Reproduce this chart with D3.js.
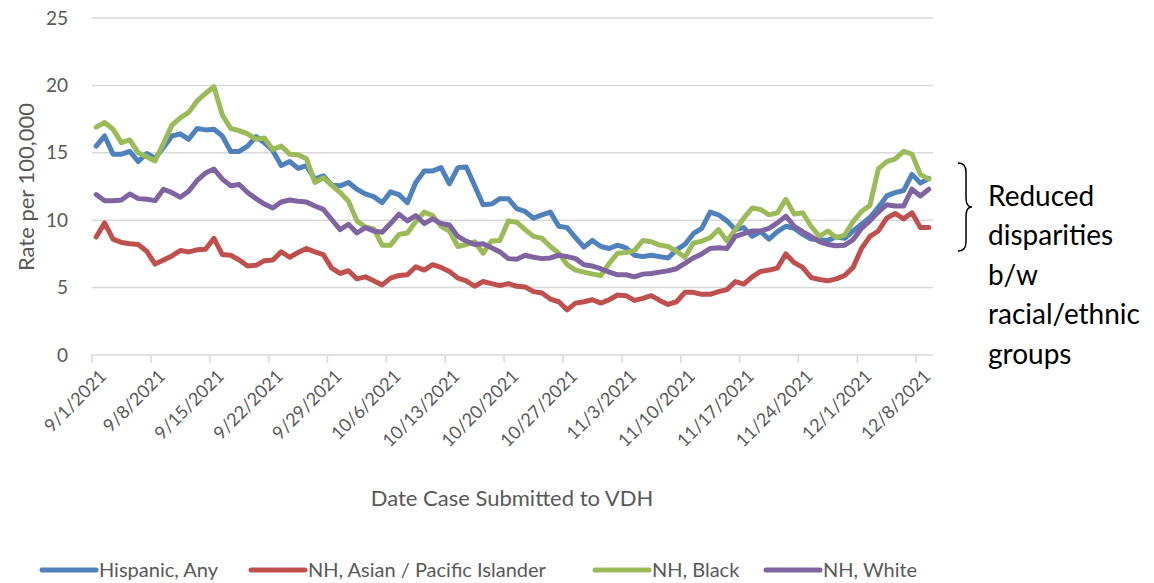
<!DOCTYPE html>
<html>
<head>
<meta charset="utf-8">
<script src="https://cdn.jsdelivr.net/npm/d3@7"></script>
<style>
  body { margin: 0; background: #fff; }
  text { font-family: Lato, "Open Sans", sans-serif; }
</style>
</head>
<body>
<div id="chart"></div>
<script>
// plot box
const W = 1154, H = 583
const plot = {left: 92, right: 933, top: 18, bottom: 355}

// daily categories 9/1/2021 .. 12/9/2021
const dates = d3.timeDay.range(new Date(2021, 8, 1), new Date(2021, 11, 10))
const yTicks = [0, 5, 10, 15, 20, 25]

const seriesNames = ["Hispanic, Any", "NH, Asian / Pacific Islander", "NH, Black", "NH, White"]
const seriesColors = ["#4F81BD", "#C0504D", "#9BBB59", "#8064A2"]

const hispanic = [
    15.5, 16.25, 14.9, 14.9, 15.1, 14.35, 14.95, 14.6, 15.4, 16.25, 16.4, 16.0, 16.8, 16.7, 16.75, 16.25, 15.1,
    15.1, 15.5, 16.2, 15.75, 15.15, 14.05, 14.35, 13.85, 14.05, 13.05, 13.3, 12.6, 12.55, 12.8, 12.3, 11.95, 11.75,
    11.3, 12.1, 11.9, 11.3, 12.8, 13.65, 13.65, 13.9, 12.7, 13.9, 13.95, 12.55, 11.15, 11.2, 11.6, 11.6, 10.85,
    10.65, 10.15, 10.4, 10.6, 9.55, 9.45, 8.7, 8.0, 8.5, 8.05, 7.9, 8.15, 7.95, 7.4, 7.3, 7.4, 7.3,
    7.2, 7.8, 8.2, 9.0, 9.4, 10.6, 10.4, 9.95, 9.3, 9.45, 8.8, 9.15, 8.6, 9.15, 9.55, 9.4, 8.95,
    8.6, 8.55, 8.5, 8.75, 8.65, 9.2, 9.7, 10.2, 10.95, 11.8, 12.05, 12.2, 13.4, 12.75, 13.1
]
const asian = [
    8.75, 9.8, 8.6, 8.35, 8.25, 8.2, 7.7, 6.75, 7.05, 7.35, 7.75, 7.65, 7.8, 7.85, 8.65, 7.45, 7.4,
    7.05, 6.6, 6.65, 7.0, 7.05, 7.65, 7.25, 7.6, 7.9, 7.65, 7.45, 6.45, 6.05, 6.25, 5.65, 5.8, 5.5,
    5.2, 5.7, 5.9, 5.95, 6.55, 6.3, 6.7, 6.5, 6.2, 5.7, 5.5, 5.1, 5.45, 5.3, 5.15, 5.3, 5.1,
    5.05, 4.7, 4.6, 4.15, 3.95, 3.35, 3.85, 3.95, 4.1, 3.85, 4.1, 4.45, 4.4, 4.05, 4.2, 4.4, 4.05,
    3.75, 3.95, 4.65, 4.65, 4.5, 4.5, 4.7, 4.85, 5.45, 5.25, 5.8, 6.2, 6.3, 6.45, 7.5, 6.85, 6.5,
    5.75, 5.6, 5.5, 5.65, 5.9, 6.5, 7.9, 8.8, 9.2, 10.15, 10.5, 10.1, 10.55, 9.45, 9.45
]
const black = [
    16.9, 17.25, 16.75, 15.75, 15.95, 15.0, 14.7, 14.4, 15.7, 17.05, 17.6, 18.0, 18.85, 19.4, 19.9, 17.8, 16.8,
    16.65, 16.4, 16.0, 16.1, 15.25, 15.5, 14.9, 14.85, 14.55, 12.8, 13.15, 12.6, 12.05, 11.4, 9.95, 9.5, 9.35,
    8.15, 8.15, 8.95, 9.05, 9.9, 10.6, 10.35, 9.55, 9.2, 8.05, 8.2, 8.4, 7.55, 8.45, 8.5, 9.95, 9.85,
    9.3, 8.8, 8.65, 8.05, 7.55, 6.7, 6.3, 6.15, 6.0, 5.9, 6.8, 7.55, 7.6, 7.75, 8.5, 8.4, 8.15,
    8.05, 7.7, 7.25, 8.3, 8.45, 8.7, 9.3, 8.45, 9.3, 10.15, 10.9, 10.8, 10.4, 10.55, 11.55, 10.45, 10.55,
    9.55, 8.8, 9.2, 8.7, 8.9, 9.9, 10.65, 11.1, 13.8, 14.35, 14.55, 15.1, 14.9, 13.4, 13.05
]
const white = [
    11.9, 11.45, 11.45, 11.5, 11.95, 11.6, 11.55, 11.45, 12.3, 12.05, 11.7, 12.15, 12.95, 13.5, 13.8, 13.05, 12.55,
    12.65, 12.05, 11.6, 11.2, 10.9, 11.35, 11.5, 11.4, 11.35, 11.05, 10.8, 10.05, 9.3, 9.7, 9.05, 9.45, 9.2,
    9.1, 9.75, 10.45, 9.95, 10.35, 9.75, 10.1, 9.75, 9.65, 8.8, 8.45, 8.2, 8.25, 7.95, 7.65, 7.15, 7.1,
    7.4, 7.25, 7.15, 7.2, 7.4, 7.3, 7.15, 6.7, 6.6, 6.4, 6.15, 5.95, 5.95, 5.8, 6.0, 6.05, 6.15,
    6.25, 6.4, 6.8, 7.2, 7.5, 7.9, 7.95, 7.9, 8.8, 9.0, 9.2, 9.2, 9.4, 9.8, 10.3, 9.55, 9.15,
    8.8, 8.4, 8.2, 8.1, 8.15, 8.55, 9.4, 9.95, 10.6, 11.15, 11.05, 11.05, 12.3, 11.8, 12.3
]

const noteLines = ["Reduced", "disparities", "b/w", "racial/ethnic", "groups"]

const allSeries = [hispanic, asian, black, white]

const svg = d3.select("#chart").append("svg")
    .attr("width", W)
    .attr("height", H)

const x = d3.scaleBand()
    .domain(dates)
    .range([plot.left, plot.right])
    .padding(0)

const y = d3.scaleLinear()
    .domain([0, 25])
    .range([plot.bottom, plot.top])

const fmt = d3.timeFormat("%-m/%-d/%Y")
const weekly = dates.filter((d, i) => i % 7 == 0)

// gridlines
svg.append("g")
    .selectAll("line")
    .data(yTicks.slice(1))
    .enter().append("line")
    .attr("x1", plot.left)
    .attr("x2", plot.right)
    .attr("y1", d => y(d))
    .attr("y2", d => y(d))
    .attr("stroke", "#d9d9d9")
    .attr("stroke-width", 1.5)

// y labels
svg.append("g")
    .selectAll("text")
    .data(yTicks)
    .enter().append("text")
    .attr("x", 68)
    .attr("y", d => y(d))
    .attr("dy", "0.35em")
    .attr("text-anchor", "end")
    .attr("font-size", 19)
    .attr("fill", "#595959")
    .text(d => d)

// x axis line + ticks
svg.append("line")
    .attr("x1", plot.left).attr("x2", plot.right)
    .attr("y1", plot.bottom).attr("y2", plot.bottom)
    .attr("stroke", "#d9d9d9")
    .attr("stroke-width", 1.5)

svg.append("g")
    .selectAll("line")
    .data(weekly)
    .enter().append("line")
    .attr("x1", d => x(d)).attr("x2", d => x(d))
    .attr("y1", plot.bottom).attr("y2", plot.bottom + 8)
    .attr("stroke", "#d9d9d9")
    .attr("stroke-width", 1.5)

svg.append("g")
    .selectAll("text")
    .data(weekly)
    .enter().append("text")
    .attr("transform", d => `translate(${x(d) + 11},${plot.bottom + 18}) rotate(-45)`)
    .attr("text-anchor", "end")
    .attr("dy", "0.35em")
    .attr("font-size", 18)
    .attr("fill", "#595959")
    .text(d => fmt(d))

// axis titles
svg.append("text")
    .attr("transform", `translate(26,187) rotate(-90)`)
    .attr("text-anchor", "middle")
    .attr("dy", "0.35em")
    .attr("font-size", 22)
    .attr("fill", "#595959")
    .text("Rate per 100,000")

svg.append("text")
    .attr("x", 512)
    .attr("y", 498)
    .attr("dy", "0.35em")
    .attr("text-anchor", "middle")
    .attr("font-size", 22)
    .attr("fill", "#595959")
    .text("Date Case Submitted to VDH")

// lines
const line = d3.line()
    .x((v, i) => x(dates[i]) + x.bandwidth() / 2)
    .y(v => y(v))

svg.append("g")
    .selectAll("path")
    .data(allSeries)
    .enter().append("path")
    .attr("d", d => line(d))
    .attr("fill", "none")
    .attr("stroke", (d, i) => seriesColors[i])
    .attr("stroke-width", 5)
    .attr("stroke-linejoin", "round")
    .attr("stroke-linecap", "round")

// legend
const legendX = [42, 251, 595, 766]
const leg = svg.append("g")
    .selectAll("g")
    .data(seriesNames)
    .enter().append("g")
    .attr("transform", (d, i) => `translate(${legendX[i]},570)`)

leg.append("line")
    .attr("x1", 0).attr("x2", 54)
    .attr("stroke", (d, i) => seriesColors[i])
    .attr("stroke-width", 5)
    .attr("stroke-linecap", "round")

leg.append("text")
    .attr("x", 57)
    .attr("dy", "0.35em")
    .attr("font-size", 20)
    .attr("fill", "#595959")
    .text(d => d)

// annotation brace
svg.append("path")
    .attr("d", "M958,163 Q966,163 966,172 L966,198 Q966,207 972,207 Q966,207 966,216 L966,242 Q966,251 958,251")
    .attr("fill", "none")
    .attr("stroke", "#000")
    .attr("stroke-width", 1.5)

svg.append("g")
    .selectAll("text")
    .data(noteLines)
    .enter().append("text")
    .attr("x", 988)
    .attr("y", (d, i) => 196 + i * 39.5)
    .attr("dy", "0.35em")
    .attr("font-size", 28)
    .attr("fill", "#000")
    .text(d => d)
</script>
</body>
</html>
